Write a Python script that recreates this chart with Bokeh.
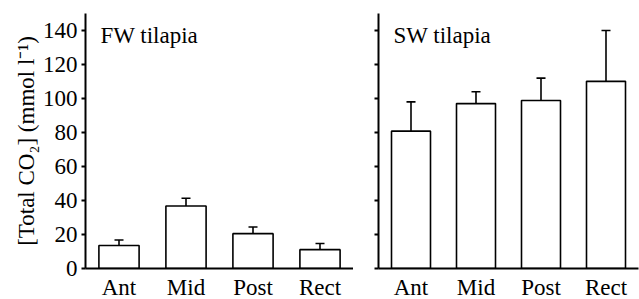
from bokeh.plotting import figure
from bokeh.layouts import row
from bokeh.models import ColumnDataSource, Whisker, TeeHead, Label, FixedTicker
from bokeh.embed import file_html
from bokeh.resources import INLINE

segments = ["Ant", "Mid", "Post", "Rect"]
fw_mean = [13.5, 36.8, 20.5, 11.1]
fw_err_top = [16.8, 41.3, 24.4, 14.7]
sw_mean = [80.8, 97.0, 98.8, 110.1]
sw_err_top = [98.0, 104.0, 112.0, 140.0]
y_ticks = [0, 20, 40, 60, 80, 100, 120, 140]
panel_titles = ["FW tilapia", "SW tilapia"]

FONT = "Liberation Serif"
FS = "23px"


def make_panel(mean, err_top, title, show_labels, frame_w, min_left, min_right):
    p = figure(x_range=segments, y_range=(0, 150),
               frame_width=frame_w, frame_height=255,
               output_backend="svg", toolbar_location=None,
               min_border_left=min_left, min_border_right=min_right,
               min_border_top=13, min_border_bottom=0)
    src = ColumnDataSource(dict(x=segments, top=mean, lower=mean, upper=err_top))
    p.vbar(x="x", top="top", width=0.6, source=src, fill_color="white",
           line_color="black", line_width=1.6)
    w = Whisker(base="x", lower="lower", upper="upper", source=src,
                line_color="black", line_width=1.6, lower_head=None,
                upper_head=TeeHead(size=9, line_color="black", line_width=1.6))
    p.add_layout(w)
    p.add_layout(Label(x=15, x_units="screen", y=136.8, text=title,
                       text_font=FONT, text_font_size=FS, text_color="black",
                       text_baseline="alphabetic"))
    p.outline_line_color = None
    p.grid.grid_line_color = None
    p.background_fill_color = "white"
    p.border_fill_color = "white"

    ax = p.yaxis[0]
    ax.ticker = FixedTicker(ticks=y_ticks)
    ax.major_tick_out = 4
    ax.major_tick_in = 0
    ax.minor_tick_line_color = None
    ax.axis_line_width = 2
    ax.major_tick_line_width = 2
    ax.major_label_text_font = FONT
    ax.major_label_text_font_size = FS
    ax.major_label_text_color = "black"
    ax.major_label_standoff = 4
    if show_labels:
        ax.axis_label = "[Total CO\u2082] (mmol l\u207b\u00b9)"
        ax.axis_label_text_font = FONT
        ax.axis_label_text_font_size = FS
        ax.axis_label_text_font_style = "normal"
        ax.axis_label_text_color = "black"
        ax.axis_label_standoff = 1
    else:
        ax.major_label_overrides = {t: "" for t in y_ticks}
        ax.major_label_standoff = 0

    xa = p.xaxis[0]
    xa.major_tick_line_color = None
    xa.minor_tick_line_color = None
    xa.axis_line_width = 2
    xa.major_label_text_font = FONT
    xa.major_label_text_font_size = FS
    xa.major_label_text_color = "black"
    xa.major_label_standoff = 0
    xa.axis_label_standoff = 0
    p.x_range.range_padding = 0
    return p


p1 = make_panel(fw_mean, fw_err_top, panel_titles[0], True, 268, 85, 0)
p2 = make_panel(sw_mean, sw_err_top, panel_titles[1], False, 260, 25, 1)
p = row(p1, p2)
open("out.html", "w").write(file_html(p, INLINE))
